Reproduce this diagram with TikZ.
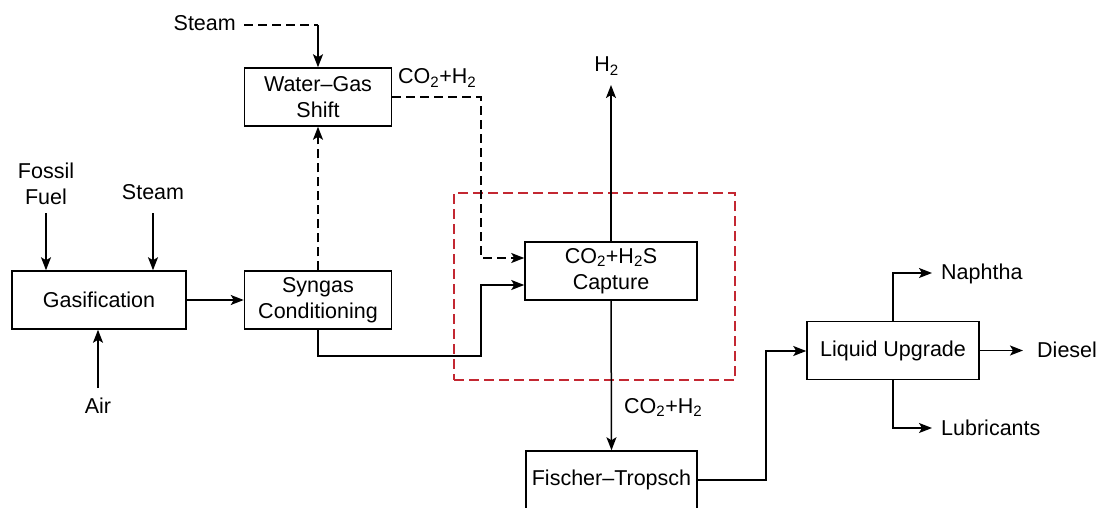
\documentclass[tikz,border=0pt]{standalone}
\usepackage{fontspec}
\setmainfont{Liberation Sans}
\usetikzlibrary{arrows.meta}
\definecolor{grpred}{RGB}{195,40,50}
\begin{document}
\begin{tikzpicture}[x=1pt,y=-1pt,
  every node/.style={font=\fontsize{21.5pt}{26pt}\selectfont, inner sep=2pt},
  box/.style={draw, line width=1.5pt, minimum width=147pt, minimum height=58pt, align=center, inner sep=0pt},
  lbl/.style={align=center},
  flow/.style={line width=1.5pt, -{Stealth[length=13pt,width=10pt,inset=3pt]}},
  dashline/.style={line width=1.5pt, dash pattern=on 9pt off 5pt},
  dflow/.style={flow, dash pattern=on 9pt off 5pt},
  grp/.style={draw=grpred, line width=1.5pt, dash pattern=on 10pt off 5pt, minimum width=281pt, minimum height=187pt, inner sep=0pt}
]
\path[use as bounding box] (0,0) rectangle (1102,508);
\clip (0,0) rectangle (1102,508);

% group frame
\node[grp] (grp) at (594.5,286.5) {};

% boxes
\node[box, minimum width=174pt] (gas) at (99,300) {Gasification};
\node[box] (syn) at (318,300) {Syngas\\Conditioning};
\node[box] (wgs) at (318,97) {Water--Gas\\Shift};
\node[box, minimum width=172pt] (cap) at (611,271) {CO\textsubscript{2}+H\textsubscript{2}S\\Capture};
\node[box, minimum width=171pt] (ft) at (611.5,480) {Fischer--Tropsch};
\node[box, minimum width=172pt] (lu) at (893,350.5) {Liquid Upgrade};

% labels
\node[anchor=base east] (st1) at (238,31) {Steam};
\node[lbl] (ff) at (46,184) {Fossil\\Fuel};
\node[anchor=base] (st2) at (153,199) {Steam};
\node[anchor=base] (air) at (98,413) {Air};
\node[anchor=base] (h2) at (606.5,72) {H\textsubscript{2}};
\node[anchor=base west] (co2a) at (396,84) {CO\textsubscript{2}+H\textsubscript{2}};
\node[anchor=base west] (co2b) at (622,413) {CO\textsubscript{2}+H\textsubscript{2}};
\node[anchor=base west] (nap) at (939,279) {Naphtha};
\node[anchor=base west] (die) at (1035,357) {Diesel};
\node[anchor=base west] (lub) at (939,435) {Lubricants};

% free ends
\coordinate (stB) at (244,25);
\coordinate (ffA) at (46,213);
\coordinate (stA) at (153,213);
\coordinate (airA) at (98,388);
\coordinate (jx) at (481,258);
\coordinate (jy) at (481,356);
\coordinate (h2A) at (611,85);
\coordinate (jz) at (766,351);
\coordinate (nA) at (932,273);
\coordinate (dA) at (1023,350.5);
\coordinate (lA) at (932,428);

% connectors
\draw[dashline] (stB) -- (stB -| wgs.north);
\draw[flow] (stB -| wgs.north) -- (wgs.north);
\draw[flow] (ffA) -- (ffA |- gas.north);
\draw[flow] (stA) -- (stA |- gas.north);
\draw[flow] (airA) -- (airA |- gas.south);
\draw[flow] (gas) -- (syn);
\draw[dflow] (syn.north) -- (wgs.south);
\draw[dflow] (wgs.east) -| (jx) -- (jx -| cap.west);
\draw[flow] (syn.south) |- (jy) |- ([yshift=-14pt]cap.west);
\draw[flow] (cap.north) -- (h2A);
\draw[flow] (cap.south) -- (ft.north);
\draw[flow] (ft.east) -| (jz) -- (jz -| lu.west);
\draw[flow] (lu.north) |- (nA);
\draw[flow] (lu.east) -- (dA);
\draw[flow] (lu.south) |- (lA);
\end{tikzpicture}
\end{document}
